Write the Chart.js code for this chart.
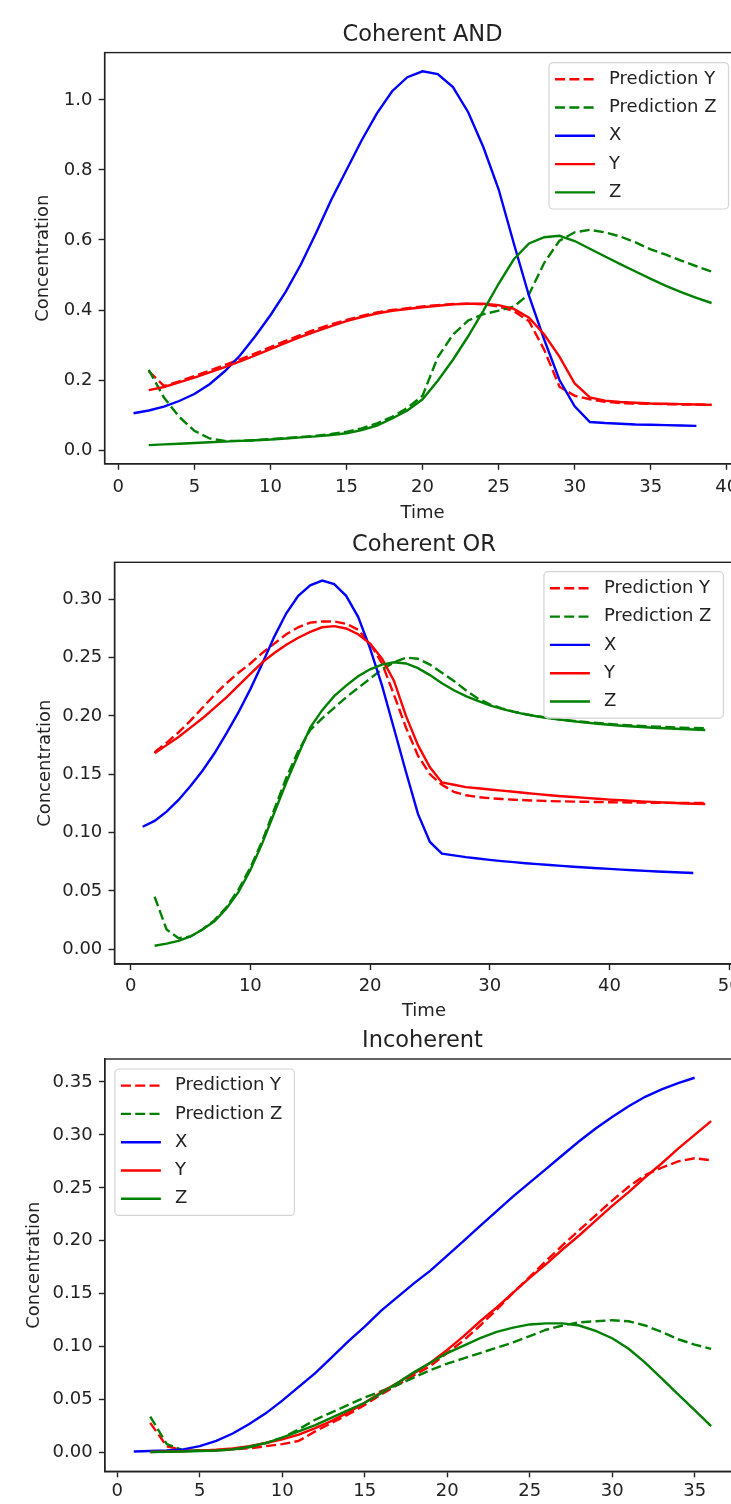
<!DOCTYPE html>
<html>
<head>
<meta charset="utf-8">
<script src="https://cdn.jsdelivr.net/npm/chart.js@4/dist/chart.umd.min.js"></script>
<style>
  html, body { margin: 0; padding: 0; background: #fff; }
  #page { position: relative; width: 731px; height: 1504px; overflow: hidden; background: #fff; }
  canvas { position: absolute; left: 0; }
</style>
</head>
<body>
<div id="page">
  <canvas id="andChart" width="800" height="530" style="top:0px;width:800px;height:530px"></canvas>
  <canvas id="orChart" width="800" height="495" style="top:530px;width:800px;height:495px"></canvas>
  <canvas id="incChart" width="800" height="530" style="top:1025px;width:800px;height:530px"></canvas>
</div>
<script>
// --- Coherent AND ---
var andTimeX = [1,2,3,4,5,6,7,8,9,10,11,12,13,14,15,16,17,18,19,20,21,22,23,24,25,26,27,28,29,30,31,32,33,34,35,36,37,38];
var andTime = [2,3,4,5,6,7,8,9,10,11,12,13,14,15,16,17,18,19,20,21,22,23,24,25,26,27,28,29,30,31,32,33,34,35,36,37,38,39];
var andX = [0.105,0.113,0.124,0.14,0.16,0.188,0.225,0.27,0.325,0.385,0.452,0.53,0.62,0.715,0.80,0.885,0.962,1.025,1.065,1.082,1.074,1.037,0.965,0.865,0.745,0.59,0.44,0.315,0.2,0.125,0.08,0.077,0.075,0.073,0.072,0.071,0.07,0.069];
var andY = [0.171,0.18,0.193,0.207,0.222,0.237,0.253,0.27,0.288,0.306,0.323,0.339,0.354,0.368,0.38,0.39,0.398,0.403,0.408,0.412,0.416,0.418,0.418,0.414,0.403,0.378,0.33,0.267,0.19,0.15,0.141,0.137,0.135,0.133,0.132,0.131,0.13,0.129];
var andZ = [0.014,0.016,0.018,0.02,0.022,0.024,0.026,0.028,0.03,0.033,0.036,0.039,0.043,0.048,0.057,0.07,0.09,0.113,0.145,0.198,0.258,0.325,0.398,0.475,0.545,0.59,0.608,0.612,0.597,0.575,0.553,0.531,0.51,0.489,0.469,0.451,0.435,0.42];
var andPredY = [0.225,0.183,0.196,0.211,0.227,0.243,0.259,0.276,0.294,0.312,0.329,0.345,0.359,0.372,0.383,0.393,0.4,0.405,0.41,0.414,0.417,0.418,0.416,0.41,0.397,0.368,0.286,0.181,0.155,0.145,0.138,0.134,0.133,0.132,0.131,0.13,0.13,0.129];
var andPredZ = [0.229,0.15,0.095,0.055,0.033,0.026,0.026,0.028,0.031,0.034,0.037,0.041,0.046,0.052,0.062,0.076,0.095,0.12,0.155,0.265,0.33,0.37,0.388,0.398,0.41,0.445,0.535,0.598,0.622,0.629,0.622,0.61,0.593,0.573,0.558,0.541,0.525,0.51];
var andXTicks = [0,5,10,15,20,25,30,35,40];
var andYTicks = [0.0,0.2,0.4,0.6,0.8,1.0];

// --- Coherent OR ---
var orTimeX = [1,2,3,4,5,6,7,8,9,10,11,12,13,14,15,16,17,18,19,20,21,22,23,24,25,26,27,28,29,30,31,32,33,34,35,36,37,38,39,40,41,42,43,44,45,46,47];
var orTime = [2,3,4,5,6,7,8,9,10,11,12,13,14,15,16,17,18,19,20,21,22,23,24,25,26,27,28,29,30,31,32,33,34,35,36,37,38,39,40,41,42,43,44,45,46,47,48];
var orX = [0.105,0.11,0.118,0.128,0.14,0.153,0.168,0.185,0.203,0.223,0.245,0.268,0.288,0.303,0.312,0.316,0.313,0.303,0.285,0.258,0.226,0.189,0.152,0.116,0.092,0.082,0.0805,0.079,0.0778,0.0766,0.0756,0.0747,0.0738,0.073,0.0722,0.0715,0.0708,0.0701,0.0695,0.0689,0.0683,0.0677,0.0672,0.0667,0.0662,0.0658,0.0654];
var orY = [0.168,0.175,0.182,0.19,0.198,0.207,0.216,0.226,0.236,0.246,0.254,0.261,0.267,0.272,0.276,0.277,0.275,0.27,0.262,0.249,0.23,0.2,0.175,0.156,0.143,0.141,0.139,0.138,0.137,0.136,0.135,0.134,0.133,0.132,0.1312,0.1305,0.1298,0.129,0.1283,0.1277,0.1271,0.1266,0.1261,0.1256,0.1252,0.1248,0.1245];
var orZ = [0.003,0.0048,0.0072,0.011,0.017,0.024,0.035,0.049,0.068,0.091,0.117,0.143,0.167,0.19,0.205,0.217,0.226,0.234,0.24,0.244,0.246,0.245,0.241,0.235,0.228,0.222,0.217,0.213,0.209,0.206,0.2035,0.2013,0.1995,0.198,0.1966,0.1954,0.1943,0.1933,0.1924,0.1916,0.1909,0.1903,0.1897,0.1892,0.1888,0.1884,0.188];
var orPredY = [0.169,0.177,0.186,0.196,0.207,0.218,0.228,0.237,0.245,0.254,0.262,0.27,0.276,0.28,0.281,0.281,0.279,0.274,0.262,0.245,0.218,0.19,0.166,0.15,0.141,0.135,0.132,0.1305,0.1295,0.1288,0.1282,0.1278,0.1274,0.127,0.1268,0.1266,0.1264,0.1262,0.126,0.1259,0.1258,0.1257,0.1256,0.1255,0.1254,0.1254,0.1254];
var orPredZ = [0.045,0.017,0.0095,0.011,0.017,0.025,0.036,0.051,0.07,0.093,0.12,0.147,0.17,0.188,0.198,0.207,0.216,0.224,0.232,0.24,0.246,0.25,0.249,0.244,0.237,0.23,0.222,0.215,0.21,0.2065,0.2037,0.2015,0.1997,0.1982,0.1969,0.1958,0.1948,0.1939,0.1931,0.1924,0.1918,0.1913,0.1908,0.1904,0.19,0.1897,0.1895];
var orXTicks = [0,10,20,30,40,50];
var orYTicks = [0.00,0.05,0.10,0.15,0.20,0.25,0.30];

// --- Incoherent ---
var incTimeX = [1,2,3,4,5,6,7,8,9,10,11,12,13,14,15,16,17,18,19,20,21,22,23,24,25,26,27,28,29,30,31,32,33,34,35];
var incTime = [2,3,4,5,6,7,8,9,10,11,12,13,14,15,16,17,18,19,20,21,22,23,24,25,26,27,28,29,30,31,32,33,34,35,36];
var incX = [0.001,0.0015,0.002,0.003,0.006,0.011,0.018,0.027,0.037,0.049,0.062,0.075,0.09,0.105,0.119,0.134,0.147,0.16,0.172,0.186,0.2,0.214,0.228,0.242,0.255,0.268,0.281,0.294,0.306,0.317,0.327,0.336,0.343,0.349,0.354];
var incY = [0.0005,0.001,0.0013,0.0018,0.0027,0.004,0.006,0.009,0.0125,0.017,0.023,0.03,0.038,0.047,0.057,0.066,0.075,0.085,0.097,0.11,0.124,0.137,0.151,0.165,0.178,0.192,0.205,0.219,0.233,0.246,0.26,0.273,0.287,0.30,0.313];
var incZ = [0.0005,0.0008,0.001,0.0015,0.002,0.003,0.0055,0.009,0.014,0.02,0.026,0.033,0.04,0.047,0.056,0.066,0.076,0.085,0.094,0.101,0.108,0.114,0.118,0.121,0.122,0.122,0.12,0.115,0.108,0.098,0.085,0.07,0.055,0.04,0.025];
var incPredY = [0.028,0.006,0.002,0.002,0.002,0.003,0.004,0.006,0.008,0.011,0.02,0.028,0.036,0.045,0.055,0.064,0.073,0.082,0.094,0.106,0.12,0.135,0.151,0.166,0.181,0.196,0.21,0.224,0.238,0.251,0.262,0.269,0.275,0.278,0.276];
var incPredZ = [0.034,0.008,0.002,0.002,0.002,0.003,0.005,0.009,0.014,0.022,0.031,0.038,0.045,0.052,0.058,0.064,0.071,0.078,0.084,0.089,0.094,0.099,0.104,0.11,0.116,0.12,0.123,0.124,0.125,0.124,0.12,0.114,0.107,0.102,0.098];
var incXTicks = [0,5,10,15,20,25,30,35];
var incYTicks = [0.00,0.05,0.10,0.15,0.20,0.25,0.30,0.35];

var FONT = '"DejaVu Sans", sans-serif';
var TEXT = '#222';
var RED = '#ff0000', GREEN = '#008000', BLUE = '#0000ff';
var CANVAS_W = 800;
var FS = 18;        // tick / label / legend size
var TITLE_FS = 22.5;

// x/y pairs for a series
function pts(ts, vs) {
    return vs.map(function (v, i) { return { x: ts[i], y: v }; });
}

function series(label, color, ts, vs, dashed, order) {
    return {
        label: label,
        data: pts(ts, vs),
        borderColor: color,
        backgroundColor: color,
        borderWidth: 2.4,
        borderDash: dashed ? [10, 4.3] : [],
        borderCapStyle: 'butt',
        pointRadius: 0,
        tension: 0,
        fill: false,
        order: order
    };
}

// frame round the plot area, like matplotlib spines
var axesBox = {
    id: 'axesBox',
    afterDatasetsDraw: function (chart) {
        var a = chart.chartArea, ctx = chart.ctx;
        ctx.save();
        ctx.strokeStyle = '#222';
        ctx.lineWidth = 1.4;
        ctx.strokeRect(a.left, a.top, a.right - a.left, a.bottom - a.top);
        ctx.restore();
    }
};

// legend drawn inside the axes
var insideLegend = {
    id: 'insideLegend',
    afterDraw: function (chart, args, opts) {
        var a = chart.chartArea, ctx = chart.ctx;
        var sets = chart.data.datasets;
        ctx.save();
        ctx.font = FS + 'px ' + FONT;
        var textW = 0;
        sets.forEach(function (d) { textW = Math.max(textW, ctx.measureText(d.label).width); });
        var w = 60 + textW + 12, h = 146.4;
        var x = opts.side === 'right' ? a.right - opts.dx - w : a.left + opts.dx;
        var y = a.top + opts.dy;
        ctx.beginPath();
        ctx.roundRect(x, y, w, h, 4);
        ctx.fillStyle = 'rgba(255,255,255,0.8)';
        ctx.fill();
        ctx.strokeStyle = '#d4d4d4';
        ctx.lineWidth = 1.2;
        ctx.stroke();
        sets.forEach(function (d, i) {
            var cy = y + 16.6 + i * 28.3;
            ctx.beginPath();
            ctx.setLineDash(d.borderDash);
            ctx.lineCap = 'butt';
            ctx.strokeStyle = d.borderColor;
            ctx.lineWidth = d.borderWidth;
            ctx.moveTo(x + 6, cy);
            ctx.lineTo(x + 46, cy);
            ctx.stroke();
            ctx.setLineDash([]);
            ctx.fillStyle = TEXT;
            ctx.textBaseline = 'middle';
            ctx.textAlign = 'left';
            ctx.fillText(d.label, x + 60, cy);
        });
        ctx.restore();
    }
};

function makeChart(id, p) {
    var canvas = document.getElementById(id);
    var H = canvas.height;
    var tickFont = { family: FONT, size: FS };
    var titleLH = TITLE_FS * 1.2;
    return new Chart(canvas, {
        type: 'line',
        data: {
            datasets: [
                series('Prediction Y', RED, p.t, p.predY, true, 5),
                series('Prediction Z', GREEN, p.t, p.predZ, true, 4),
                series('X', BLUE, p.tX, p.X, false, 3),
                series('Y', RED, p.t, p.Y, false, 2),
                series('Z', GREEN, p.t, p.Z, false, 1)
            ]
        },
        options: {
            responsive: false,
            animation: false,
            devicePixelRatio: 1,
            layout: { padding: { top: 0, left: 0, bottom: 0, right: CANVAS_W - p.area.right } },
            plugins: {
                legend: { display: false },
                tooltip: { enabled: false },
                title: {
                    display: true,
                    fullSize: false,
                    text: p.title,
                    color: TEXT,
                    font: { family: FONT, size: TITLE_FS, weight: 'normal' },
                    padding: { top: p.titleY - titleLH / 2, bottom: p.area.top - p.titleY - titleLH / 2 }
                },
                insideLegend: p.legend
            },
            scales: {
                x: {
                    type: 'linear',
                    min: p.xRange[0],
                    max: p.xRange[1],
                    afterBuildTicks: function (axis) { axis.ticks = p.xTicks.map(function (v) { return { value: v }; }); },
                    afterFit: function (s) { s.height = H - p.area.bottom; },
                    ticks: { font: tickFont, color: TEXT, padding: p.xTickPad, maxRotation: 0, autoSkip: false,
                             callback: function (v) { return String(v); } },
                    grid: { drawOnChartArea: false, drawTicks: true, tickLength: 6, tickWidth: 1.4, tickColor: '#222' },
                    border: { display: true, color: '#222', width: 1.4 },
                    title: { display: true, text: 'Time', color: TEXT, font: tickFont, padding: { top: 0, bottom: p.timePad } }
                },
                y: {
                    type: 'linear',
                    min: p.yRange[0],
                    max: p.yRange[1],
                    afterBuildTicks: function (axis) { axis.ticks = p.yTicks.map(function (v) { return { value: v }; }); },
                    afterFit: function (s) { s.width = p.area.left; },
                    ticks: { font: tickFont, color: TEXT, padding: 6.2,
                             callback: function (v) { return v.toFixed(p.yDec); } },
                    grid: { drawOnChartArea: false, drawTicks: true, tickLength: 6, tickWidth: 1.4, tickColor: '#222' },
                    border: { display: true, color: '#222', width: 1.4 },
                    title: { display: true, text: 'Concentration', color: TEXT, font: tickFont, padding: { top: p.yTitlePad, bottom: 0 } }
                }
            }
        },
        plugins: [axesBox, insideLegend]
    });
}

makeChart('andChart', {
    title: 'Coherent AND',
    tX: andTimeX, X: andX, t: andTime, Y: andY, Z: andZ, predY: andPredY, predZ: andPredZ,
    xTicks: andXTicks, yTicks: andYTicks, yDec: 1,
    xRange: [-0.9, 40.9], yRange: [-0.0394, 1.1354],
    area: { left: 104.6, top: 52.6, right: 740.5, bottom: 463.8 },
    titleY: 35, xTickPad: 6.9, timePad: 6.2, yTitlePad: 32.2,
    legend: { side: 'right', dx: 12, dy: 10 }
});

makeChart('orChart', {
    title: 'Coherent OR',
    tX: orTimeX, X: orX, t: orTime, Y: orY, Z: orZ, predY: orPredY, predZ: orPredZ,
    xTicks: orXTicks, yTicks: orYTicks, yDec: 2,
    xRange: [-1.35, 50.35], yRange: [-0.0127, 0.3317],
    area: { left: 114.5, top: 32.3, right: 733.4, bottom: 434.1 },
    titleY: 15, xTickPad: 5.8, timePad: 2.5, yTitlePad: 34.2,
    legend: { side: 'right', dx: 10, dy: 9.4 }
});

makeChart('incChart', {
    title: 'Incoherent',
    tX: incTimeX, X: incX, t: incTime, Y: incY, Z: incZ, predY: incPredY, predZ: incPredZ,
    xTicks: incXTicks, yTicks: incYTicks, yDec: 2,
    xRange: [-0.75, 37.75], yRange: [-0.0177, 0.3717],
    area: { left: 104.9, top: 34, right: 740, bottom: 446.3 },
    titleY: 16, xTickPad: 3.4, timePad: 6.2, yTitlePad: 23.2,
    legend: { side: 'left', dx: 10, dy: 10 }
});
</script>
</body>
</html>
